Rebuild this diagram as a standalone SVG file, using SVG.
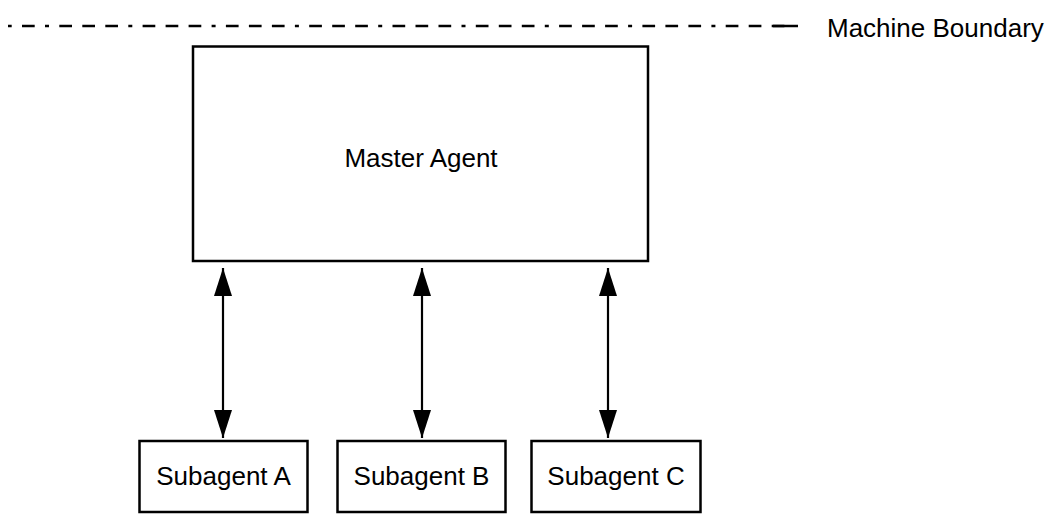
<svg xmlns="http://www.w3.org/2000/svg" width="1058" height="514" viewBox="0 0 1058 514">
  <style>
    .box { fill: #ffffff; stroke: #000000; stroke-width: 2.5; }
    .label { font-family: "Liberation Sans", Arial, Helvetica, sans-serif; font-size: 26px; fill: #000000; }
    .link { stroke: #000000; stroke-width: 2.2; fill: none; }
    .boundary { stroke: #000000; stroke-width: 2.5; fill: none; }
    .dashdot { stroke-dasharray: 4 10.3 12.7 10.3 12.7 10.3 12.7 10.3; stroke-dashoffset: 46.3; }
  </style>
  <defs>
    <!-- filled triangular head, 28 long and 18 wide -->
    <marker id="arrow" viewBox="0 0 28 18" refX="28" refY="9" markerWidth="28" markerHeight="18" markerUnits="userSpaceOnUse" orient="auto-start-reverse">
      <path d="M0,0 L28,9 L0,18 Z" fill="#000000"/>
    </marker>
  </defs>

  <g id="machine-boundary">
    <line class="boundary dashdot" x1="8" y1="26" x2="786" y2="26"/>
    <line class="boundary" x1="773" y1="26" x2="798" y2="26"/>
    <text class="label" x="827" y="37">Machine Boundary</text>
  </g>

  <g id="master-agent">
    <rect class="box" x="193" y="46.5" width="455" height="214.5"/>
    <text class="label" x="421" y="167" text-anchor="middle">Master Agent</text>
  </g>

  <g id="subagent-a">
    <rect class="box" x="139.5" y="441" width="168" height="71"/>
    <text class="label" x="223.5" y="485" text-anchor="middle">Subagent A</text>
  </g>

  <g id="subagent-b">
    <rect class="box" x="337.5" y="441" width="168" height="71"/>
    <text class="label" x="421.5" y="485" text-anchor="middle">Subagent B</text>
  </g>

  <g id="subagent-c">
    <rect class="box" x="531.5" y="441" width="169" height="71"/>
    <text class="label" x="616" y="485" text-anchor="middle">Subagent C</text>
  </g>

  <g id="connectors">
    <line class="link" x1="223" y1="268" x2="223" y2="438" marker-start="url(#arrow)" marker-end="url(#arrow)"/>
    <line class="link" x1="422" y1="268" x2="422" y2="438" marker-start="url(#arrow)" marker-end="url(#arrow)"/>
    <line class="link" x1="608" y1="268" x2="608" y2="438" marker-start="url(#arrow)" marker-end="url(#arrow)"/>
  </g>
</svg>
